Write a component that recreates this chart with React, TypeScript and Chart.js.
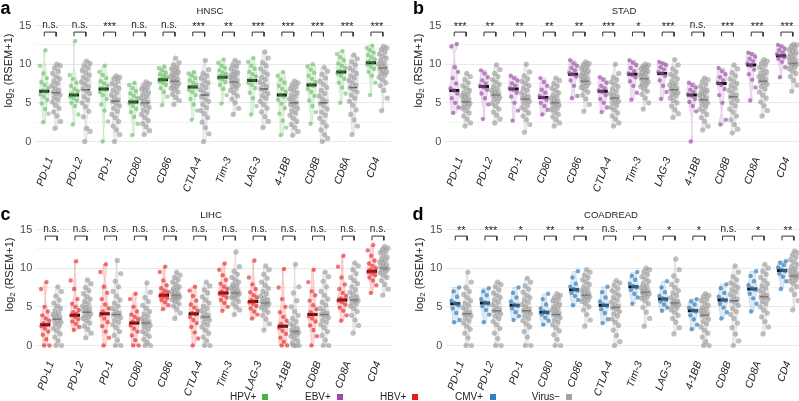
import React, { useEffect, useRef } from 'react';
import { Chart, registerables } from 'chart.js';
Chart.register(...registerables);

const FONT = '"Liberation Sans", Arial, Helvetica, sans-serif';

const genes = ['PD-L1', 'PD-L2', 'PD-1', 'CD80', 'CD86', 'CTLA-4', 'Tim-3', 'LAG-3', '4-1BB', 'CD8B', 'CD8A', 'CD4'];
const yTicks = [0, 2.5, 5, 7.5, 10, 12.5, 15];

// ---------- HNSC (HPV+ vs Virus-) ----------
const hnscSig = ['n.s.', 'n.s.', '***', 'n.s.', 'n.s.', '***', '**', '***', '***', '***', '***', '***'];
const hnscPosMed = [6.5, 6.0, 6.8, 5.1, 8.0, 7.05, 8.3, 7.9, 6.0, 7.3, 9.0, 10.2];
const hnscNegMed = [6.3, 6.7, 5.2, 5.0, 7.8, 6.0, 7.7, 6.8, 5.0, 5.0, 7.0, 9.5];
const hnscPos = [
  [2.5, 3.6, 4.2, 4.9, 5.4, 5.8, 6.1, 6.4, 6.6, 6.9, 7.3, 7.7, 8.2, 8.8, 9.8, 11.8],
  [2.2, 3.5, 4.6, 5.0, 5.3, 5.6, 5.8, 6.0, 6.2, 6.5, 6.8, 7.2, 7.6, 8.1, 8.6, 13.0],
  [0.0, 2.6, 4.0, 4.8, 5.5, 6.0, 6.4, 6.7, 6.9, 7.2, 7.5, 7.8, 8.2, 8.6, 9.0, 9.8],
  [0.8, 2.3, 3.2, 3.8, 4.2, 4.6, 4.9, 5.1, 5.3, 5.6, 5.9, 6.2, 6.5, 6.9, 7.3, 7.6],
  [4.7, 5.8, 6.4, 6.9, 7.3, 7.6, 7.8, 8.0, 8.1, 8.3, 8.5, 8.7, 8.9, 9.2, 9.5, 9.7],
  [2.8, 4.0, 4.8, 5.5, 6.0, 6.4, 6.7, 7.0, 7.1, 7.3, 7.6, 7.9, 8.2, 8.5, 8.8, 9.0],
  [4.9, 6.0, 6.8, 7.3, 7.7, 8.0, 8.2, 8.3, 8.5, 8.7, 8.9, 9.2, 9.5, 9.8, 10.2, 10.6],
  [3.5, 4.6, 5.6, 6.3, 6.9, 7.3, 7.6, 7.9, 8.1, 8.4, 8.7, 9.0, 9.4, 9.8, 10.3, 10.8],
  [0.8, 1.8, 2.7, 3.6, 4.3, 4.9, 5.4, 5.8, 6.1, 6.4, 6.8, 7.2, 7.6, 8.0, 8.5, 9.0],
  [2.3, 3.8, 4.6, 5.3, 5.9, 6.4, 6.8, 7.2, 7.4, 7.7, 8.1, 8.5, 8.9, 9.3, 9.7, 10.0],
  [5.0, 6.2, 7.0, 7.6, 8.1, 8.5, 8.8, 9.0, 9.2, 9.5, 9.8, 10.1, 10.5, 10.9, 11.3, 11.7],
  [6.0, 7.6, 8.5, 9.0, 9.4, 9.7, 10.0, 10.2, 10.4, 10.6, 10.9, 11.2, 11.5, 11.8, 12.1, 12.4],
];
const hnscNeg = [
  [1.7, 2.6, 3.3, 3.8, 4.3, 4.7, 5.1, 5.4, 5.7, 6.0, 6.2, 6.4, 6.6, 6.9, 7.2, 7.5, 7.8, 8.1, 8.4, 8.8, 9.1, 9.5, 9.8, 10.0],
  [0.0, 1.3, 1.7, 3.2, 3.9, 4.5, 5.0, 5.4, 5.8, 6.2, 6.5, 6.8, 7.1, 7.4, 7.7, 8.0, 8.3, 8.6, 8.9, 9.2, 9.5, 9.8, 10.1, 10.4],
  [0.0, 0.9, 1.5, 2.0, 2.6, 3.1, 3.5, 3.9, 4.3, 4.6, 4.9, 5.2, 5.4, 5.7, 6.0, 6.3, 6.6, 6.9, 7.2, 7.5, 7.8, 8.1, 8.3, 8.5],
  [0.9, 1.4, 1.9, 2.3, 2.7, 3.1, 3.5, 3.8, 4.1, 4.4, 4.7, 4.9, 5.1, 5.3, 5.6, 5.8, 6.1, 6.3, 6.6, 6.8, 7.0, 7.2, 7.5, 7.7],
  [4.8, 5.3, 5.7, 6.1, 6.4, 6.7, 6.9, 7.1, 7.3, 7.5, 7.7, 7.8, 8.0, 8.2, 8.4, 8.6, 8.8, 9.0, 9.2, 9.4, 9.6, 9.9, 10.2, 10.8],
  [0.0, 1.0, 1.8, 2.5, 3.1, 3.6, 4.0, 4.4, 4.8, 5.2, 5.5, 5.8, 6.1, 6.4, 6.7, 7.0, 7.3, 7.6, 7.9, 8.2, 8.5, 8.8, 9.3, 10.5],
  [3.5, 4.3, 5.0, 5.5, 5.9, 6.3, 6.6, 6.9, 7.1, 7.3, 7.5, 7.7, 7.9, 8.1, 8.3, 8.5, 8.7, 8.9, 9.1, 9.4, 9.7, 9.9, 10.2, 10.5],
  [1.8, 2.6, 3.2, 3.8, 4.3, 4.8, 5.2, 5.6, 5.9, 6.2, 6.5, 6.8, 7.1, 7.4, 7.7, 8.0, 8.3, 8.7, 9.0, 9.4, 9.8, 10.2, 10.8, 11.6],
  [0.8, 1.3, 1.8, 2.2, 2.6, 3.0, 3.4, 3.7, 4.0, 4.3, 4.6, 4.8, 5.0, 5.3, 5.5, 5.8, 6.0, 6.3, 6.6, 6.8, 7.1, 7.3, 7.6, 7.8],
  [0.0, 0.4, 0.9, 1.5, 2.0, 2.5, 3.0, 3.4, 3.8, 4.2, 4.6, 4.9, 5.2, 5.5, 5.9, 6.2, 6.6, 7.0, 7.4, 7.8, 8.2, 8.7, 9.1, 9.6],
  [0.9, 2.0, 2.8, 3.5, 4.1, 4.7, 5.2, 5.6, 6.0, 6.4, 6.7, 7.0, 7.3, 7.6, 7.9, 8.2, 8.5, 8.8, 9.2, 9.5, 9.9, 10.3, 10.7, 11.2],
  [4.0, 5.6, 6.6, 7.2, 7.6, 8.0, 8.3, 8.6, 8.8, 9.0, 9.2, 9.4, 9.6, 9.8, 10.0, 10.2, 10.5, 10.8, 11.0, 11.3, 11.6, 11.9, 12.1, 12.3],
];

// ---------- STAD (EBV+ vs Virus-) ----------
const stadSig = ['***', '**', '**', '**', '**', '***', '*', '***', 'n.s.', '***', '***', '***'];
const stadPosMed = [6.6, 7.1, 6.8, 5.7, 8.7, 6.5, 8.7, 8.8, 6.0, 7.5, 9.9, 11.1];
const stadNegMed = [5.1, 6.0, 5.5, 5.0, 7.8, 5.6, 8.1, 6.7, 5.4, 5.8, 7.8, 10.1];
const stadPos = [
  [3.7, 4.4, 5.0, 5.6, 6.2, 6.6, 6.9, 7.5, 8.2, 9.0, 9.6, 12.3, 12.6],
  [2.9, 4.8, 5.6, 6.2, 6.7, 7.0, 7.2, 7.5, 7.9, 8.3, 8.8, 9.2],
  [2.7, 4.0, 5.0, 5.8, 6.3, 6.7, 6.9, 7.2, 7.5, 7.9, 8.2, 8.5],
  [3.5, 4.1, 4.6, 5.0, 5.4, 5.7, 5.9, 6.3, 6.7, 7.2, 7.7, 8.2],
  [5.6, 5.9, 7.2, 7.9, 8.4, 8.7, 8.9, 9.2, 9.5, 9.8, 10.1, 10.5],
  [3.8, 4.4, 5.0, 5.5, 6.0, 6.4, 6.6, 6.9, 7.2, 7.6, 8.0, 8.3],
  [5.4, 6.3, 7.2, 7.8, 8.3, 8.6, 8.8, 9.1, 9.5, 9.9, 10.2, 10.5],
  [5.5, 6.4, 7.2, 7.9, 8.5, 8.8, 9.0, 9.3, 9.6, 9.9, 10.1, 10.3],
  [0.0, 3.9, 4.6, 5.1, 5.5, 5.9, 6.1, 6.4, 6.7, 7.0, 7.3, 7.6],
  [2.2, 2.8, 5.0, 6.0, 6.8, 7.3, 7.6, 7.9, 8.3, 8.7, 9.1, 9.5],
  [5.3, 7.0, 8.0, 8.7, 9.3, 9.8, 10.1, 10.4, 10.7, 11.0, 11.3, 11.5],
  [8.3, 9.6, 10.3, 10.7, 10.9, 11.1, 11.3, 11.5, 11.8, 12.0, 12.3, 12.5],
];
const stadNeg = [
  [2.0, 2.4, 2.9, 3.3, 3.7, 4.0, 4.3, 4.5, 4.7, 4.9, 5.1, 5.3, 5.5, 5.7, 5.9, 6.1, 6.3, 6.6, 6.9, 7.2, 7.6, 8.0, 8.4, 8.8],
  [2.4, 2.9, 3.4, 3.8, 4.2, 4.6, 4.9, 5.2, 5.5, 5.7, 5.9, 6.0, 6.2, 6.4, 6.6, 6.8, 7.1, 7.4, 7.7, 8.0, 8.4, 8.8, 9.3, 9.9],
  [1.2, 2.2, 2.8, 3.3, 3.7, 4.1, 4.4, 4.7, 5.0, 5.2, 5.4, 5.6, 5.8, 6.0, 6.3, 6.6, 6.9, 7.2, 7.5, 7.8, 8.1, 8.5, 9.0, 10.0],
  [2.0, 2.4, 2.8, 3.2, 3.5, 3.8, 4.1, 4.3, 4.5, 4.7, 4.9, 5.0, 5.2, 5.4, 5.6, 5.8, 6.0, 6.3, 6.6, 6.9, 7.2, 7.5, 7.9, 8.2],
  [3.9, 4.8, 5.5, 6.0, 6.4, 6.7, 7.0, 7.2, 7.4, 7.6, 7.8, 7.9, 8.1, 8.3, 8.5, 8.7, 8.9, 9.1, 9.3, 9.5, 9.7, 9.9, 10.1, 10.3],
  [2.0, 2.4, 2.9, 3.3, 3.7, 4.1, 4.4, 4.7, 5.0, 5.2, 5.4, 5.6, 5.8, 6.0, 6.2, 6.5, 6.8, 7.1, 7.4, 7.7, 8.0, 8.3, 8.8, 10.0],
  [4.2, 5.0, 5.6, 6.1, 6.5, 6.8, 7.1, 7.3, 7.5, 7.7, 7.9, 8.1, 8.2, 8.4, 8.6, 8.8, 8.9, 9.1, 9.3, 9.4, 9.6, 9.7, 9.9, 10.0],
  [3.1, 3.6, 4.1, 4.6, 5.0, 5.3, 5.6, 5.9, 6.1, 6.3, 6.5, 6.7, 6.9, 7.1, 7.3, 7.5, 7.8, 8.1, 8.4, 8.7, 9.0, 9.4, 9.9, 10.6],
  [1.5, 2.0, 2.6, 3.1, 3.5, 3.9, 4.2, 4.5, 4.8, 5.0, 5.2, 5.4, 5.6, 5.8, 6.0, 6.2, 6.4, 6.6, 6.8, 7.1, 7.4, 7.7, 8.0, 8.2],
  [1.1, 1.6, 2.2, 2.8, 3.3, 3.8, 4.2, 4.6, 5.0, 5.3, 5.6, 5.8, 6.0, 6.3, 6.6, 6.9, 7.2, 7.5, 7.8, 8.1, 8.5, 8.9, 9.4, 9.9],
  [3.3, 4.0, 4.6, 5.1, 5.6, 6.0, 6.4, 6.8, 7.1, 7.4, 7.6, 7.8, 8.0, 8.2, 8.4, 8.6, 8.8, 9.0, 9.3, 9.6, 9.9, 10.1, 10.4, 10.6],
  [6.5, 7.3, 7.9, 8.4, 8.8, 9.1, 9.4, 9.6, 9.8, 10.0, 10.1, 10.3, 10.5, 10.7, 10.9, 11.1, 11.3, 11.5, 11.7, 11.9, 12.1, 12.3, 12.5, 12.6],
];

// ---------- LIHC (HBV+ vs Virus-) ----------
const lihcSig = ['n.s.', 'n.s.', 'n.s.', 'n.s.', 'n.s.', 'n.s.', 'n.s.', 'n.s.', 'n.s.', 'n.s.', 'n.s.', 'n.s.'];
const lihcPosMed = [2.7, 3.9, 4.1, 2.9, 6.5, 4.1, 6.8, 5.7, 2.5, 4.0, 5.9, 9.6];
const lihcNegMed = [3.4, 4.3, 4.0, 2.9, 6.5, 3.7, 6.8, 5.5, 1.8, 4.0, 5.9, 10.0];
const lihcPos = [
  [0.0, 0.0, 0.8, 1.4, 1.8, 2.2, 2.5, 2.7, 2.9, 3.2, 3.5, 3.9, 4.4, 5.0, 7.3, 8.2],
  [2.0, 2.4, 2.8, 3.1, 3.4, 3.7, 3.9, 4.1, 4.3, 4.6, 5.0, 5.4, 6.0, 7.3, 8.4, 10.9],
  [0.0, 1.0, 1.8, 2.5, 3.0, 3.5, 3.9, 4.1, 4.4, 4.8, 5.3, 6.0, 6.8, 7.6, 9.5, 10.5],
  [0.0, 0.0, 0.7, 1.3, 1.8, 2.2, 2.6, 2.9, 3.1, 3.4, 3.7, 4.0, 4.4, 5.0, 6.0, 6.7],
  [4.7, 5.2, 5.6, 5.9, 6.1, 6.3, 6.4, 6.5, 6.7, 6.9, 7.1, 7.4, 7.8, 8.4, 9.5, 10.2],
  [0.0, 0.9, 1.7, 2.4, 2.9, 3.3, 3.7, 4.0, 4.2, 4.5, 4.9, 5.3, 5.8, 6.4, 7.1, 7.6],
  [4.5, 5.0, 5.5, 5.9, 6.2, 6.5, 6.7, 6.8, 7.0, 7.3, 7.6, 8.0, 8.5, 9.1, 9.8, 10.6],
  [3.5, 4.0, 4.4, 4.8, 5.1, 5.4, 5.6, 5.7, 5.9, 6.2, 6.5, 6.9, 7.3, 7.9, 8.8, 11.0],
  [0.0, 0.0, 0.5, 1.0, 1.5, 1.9, 2.3, 2.5, 2.8, 3.2, 3.7, 4.3, 5.0, 6.0, 7.5, 9.9],
  [0.0, 1.2, 2.0, 2.6, 3.1, 3.5, 3.8, 4.0, 4.3, 4.7, 5.2, 5.8, 6.5, 7.0, 8.2, 9.8],
  [3.2, 3.9, 4.5, 4.9, 5.3, 5.6, 5.8, 5.9, 6.1, 6.4, 6.8, 7.3, 7.9, 8.8, 10.2, 11.6],
  [6.8, 7.8, 8.4, 8.8, 9.1, 9.3, 9.5, 9.6, 9.8, 10.0, 10.3, 10.6, 11.0, 11.6, 12.3, 13.0],
];
const lihcNeg = [
  [0.0, 0.0, 0.6, 1.1, 1.5, 1.9, 2.2, 2.5, 2.8, 3.0, 3.2, 3.4, 3.6, 3.8, 4.0, 4.2, 4.5, 4.8, 5.1, 5.5, 5.9, 6.4, 7.0, 7.6],
  [1.0, 1.6, 2.1, 2.5, 2.9, 3.2, 3.5, 3.7, 3.9, 4.1, 4.3, 4.5, 4.7, 4.9, 5.1, 5.4, 5.7, 6.0, 6.3, 6.7, 7.1, 7.5, 8.0, 8.5],
  [0.0, 0.0, 0.7, 1.3, 1.8, 2.3, 2.7, 3.0, 3.3, 3.6, 3.8, 4.0, 4.2, 4.5, 4.8, 5.1, 5.5, 5.9, 6.4, 7.0, 7.6, 8.3, 9.3, 11.0],
  [0.0, 0.0, 0.4, 0.8, 1.2, 1.5, 1.8, 2.1, 2.4, 2.6, 2.8, 2.9, 3.1, 3.3, 3.5, 3.8, 4.1, 4.4, 4.8, 5.2, 5.7, 6.2, 6.9, 8.1],
  [3.5, 4.2, 4.7, 5.1, 5.4, 5.7, 5.9, 6.1, 6.2, 6.3, 6.4, 6.5, 6.6, 6.8, 7.0, 7.2, 7.4, 7.6, 7.9, 8.2, 8.5, 8.8, 9.1, 9.5],
  [0.0, 0.0, 0.6, 1.1, 1.6, 2.0, 2.4, 2.7, 3.0, 3.3, 3.5, 3.7, 3.9, 4.2, 4.5, 4.8, 5.1, 5.5, 5.9, 6.3, 6.8, 7.2, 7.7, 8.2],
  [4.0, 4.6, 5.0, 5.4, 5.7, 6.0, 6.2, 6.4, 6.5, 6.7, 6.8, 6.9, 7.1, 7.3, 7.5, 7.7, 7.9, 8.2, 8.5, 8.8, 9.2, 9.6, 10.2, 12.1],
  [2.0, 2.8, 3.4, 3.9, 4.3, 4.6, 4.9, 5.1, 5.3, 5.4, 5.5, 5.7, 5.9, 6.1, 6.4, 6.7, 7.0, 7.4, 7.8, 8.2, 8.7, 9.2, 9.8, 10.3],
  [0.0, 0.0, 0.0, 0.3, 0.6, 0.9, 1.2, 1.4, 1.6, 1.7, 1.8, 2.0, 2.2, 2.5, 2.8, 3.1, 3.5, 3.9, 4.4, 5.0, 5.8, 6.8, 7.6, 10.5],
  [0.0, 0.0, 0.7, 1.3, 1.8, 2.3, 2.7, 3.0, 3.3, 3.6, 3.8, 4.0, 4.2, 4.5, 4.8, 5.2, 5.6, 6.0, 6.5, 7.0, 7.6, 8.3, 8.9, 9.5],
  [1.6, 2.6, 3.3, 3.9, 4.4, 4.8, 5.1, 5.4, 5.6, 5.8, 5.9, 6.1, 6.3, 6.6, 6.9, 7.2, 7.6, 8.0, 8.4, 8.8, 9.3, 9.8, 10.3, 10.7],
  [6.5, 7.3, 7.9, 8.4, 8.8, 9.1, 9.4, 9.6, 9.8, 9.9, 10.0, 10.2, 10.4, 10.6, 10.8, 11.0, 11.2, 11.4, 11.7, 12.0, 12.2, 12.4, 12.6, 12.8],
];

// ---------- COADREAD (CMV+ vs Virus-) ----------
const coadSig = ['**', '***', '*', '**', '**', 'n.s.', '*', '*', '*', 'n.s.', '*', '**'];
const coadPosMed = [5.4, 5.5, 5.2, 4.3, 7.2, 5.2, 7.6, 6.0, 4.5, 5.9, 7.3, 9.7];
const coadNegMed = [4.1, 4.5, 4.5, 4.0, 6.5, 4.9, 6.9, 5.5, 3.9, 5.8, 6.3, 9.0];
const coadPos = [
  [3.0, 3.3, 4.2, 4.8, 5.2, 5.5, 5.8, 6.3, 7.0, 7.5],
  [3.0, 4.0, 4.6, 5.1, 5.4, 5.6, 6.0, 6.5, 7.0, 7.4],
  [3.3, 3.8, 4.3, 4.8, 5.1, 5.3, 5.7, 6.2, 6.8, 7.5],
  [2.7, 3.2, 3.6, 4.0, 4.2, 4.4, 4.8, 5.3, 6.0, 6.7],
  [5.2, 5.9, 6.4, 6.8, 7.1, 7.3, 7.6, 8.0, 8.8, 9.6],
  [2.9, 3.4, 4.2, 4.7, 5.1, 5.3, 5.7, 6.2, 6.9, 7.6],
  [5.4, 6.2, 6.7, 7.2, 7.5, 7.7, 8.0, 8.5, 9.0, 9.5],
  [4.5, 4.9, 5.3, 5.7, 5.9, 6.1, 6.4, 6.9, 7.5, 8.3],
  [2.1, 2.7, 3.4, 3.9, 4.4, 4.6, 4.9, 5.3, 5.7, 6.0],
  [3.5, 4.3, 4.9, 5.4, 5.8, 6.0, 6.3, 6.8, 7.4, 7.9],
  [4.4, 5.4, 6.1, 6.7, 7.2, 7.4, 7.8, 8.3, 9.0, 9.6],
  [7.3, 8.3, 8.9, 9.3, 9.6, 9.8, 10.1, 10.4, 10.7, 10.9],
];
const coadNeg = [
  [0.0, 0.0, 1.0, 1.6, 2.1, 2.5, 2.9, 3.2, 3.5, 3.8, 4.0, 4.1, 4.3, 4.6, 4.9, 5.2, 5.5, 5.8, 6.2, 6.6, 7.0, 7.5, 8.2, 9.5],
  [0.0, 0.0, 0.9, 1.6, 2.2, 2.7, 3.1, 3.5, 3.8, 4.1, 4.3, 4.5, 4.7, 5.0, 5.3, 5.6, 5.9, 6.2, 6.5, 6.8, 7.2, 7.6, 7.9, 8.2],
  [0.0, 0.0, 1.1, 1.8, 2.4, 2.8, 3.2, 3.5, 3.8, 4.1, 4.3, 4.5, 4.7, 5.0, 5.3, 5.6, 5.9, 6.2, 6.5, 6.9, 7.3, 7.7, 8.2, 8.7],
  [0.0, 0.0, 0.8, 1.4, 1.9, 2.3, 2.7, 3.0, 3.3, 3.6, 3.8, 4.0, 4.2, 4.4, 4.6, 4.8, 5.0, 5.3, 5.5, 5.8, 6.0, 6.2, 6.5, 6.7],
  [2.5, 3.3, 4.0, 4.6, 5.0, 5.4, 5.7, 5.9, 6.1, 6.3, 6.4, 6.5, 6.7, 6.9, 7.1, 7.3, 7.6, 7.9, 8.2, 8.5, 8.8, 9.1, 9.5, 9.8],
  [0.0, 0.5, 1.3, 2.0, 2.6, 3.0, 3.4, 3.8, 4.1, 4.4, 4.7, 4.9, 5.1, 5.3, 5.6, 5.9, 6.2, 6.5, 6.8, 7.1, 7.4, 7.8, 8.1, 8.4],
  [2.5, 3.5, 4.3, 4.9, 5.4, 5.8, 6.1, 6.3, 6.5, 6.7, 6.8, 6.9, 7.1, 7.3, 7.5, 7.7, 8.0, 8.3, 8.6, 8.9, 9.2, 9.5, 9.8, 10.0],
  [1.5, 2.3, 3.0, 3.5, 3.9, 4.3, 4.6, 4.9, 5.1, 5.3, 5.4, 5.5, 5.7, 5.9, 6.2, 6.5, 6.8, 7.1, 7.5, 7.9, 8.4, 9.0, 9.8, 11.2],
  [0.0, 0.0, 0.5, 1.1, 1.6, 2.0, 2.4, 2.8, 3.1, 3.4, 3.7, 3.9, 4.1, 4.3, 4.5, 4.7, 4.9, 5.2, 5.5, 5.8, 6.0, 6.3, 6.5, 6.7],
  [0.0, 0.6, 1.5, 2.3, 2.9, 3.5, 4.0, 4.4, 4.8, 5.2, 5.5, 5.8, 6.0, 6.3, 6.6, 6.9, 7.2, 7.5, 7.8, 8.1, 8.5, 8.9, 9.5, 10.3],
  [1.5, 2.4, 3.1, 3.7, 4.2, 4.6, 5.0, 5.4, 5.7, 6.0, 6.2, 6.3, 6.5, 6.8, 7.1, 7.4, 7.7, 8.0, 8.4, 8.8, 9.2, 9.6, 10.0, 10.5],
  [4.6, 5.8, 6.6, 7.2, 7.6, 8.0, 8.3, 8.5, 8.7, 8.9, 9.0, 9.1, 9.3, 9.5, 9.7, 9.9, 10.2, 10.5, 10.8, 11.1, 11.4, 11.7, 12.0, 12.2],
];

const legendItems = [
  { label: 'HPV+', color: '#4daf4a' },
  { label: 'EBV+', color: '#984ea3' },
  { label: 'HBV+', color: '#e41a1c' },
  { label: 'CMV+', color: '#377eb8' },
  { label: 'Virus\u2212', color: '#a3a3a3' },
];

type PanelDef = {
  letter: string; title: string; rgb: string; ptAlpha: number;
  pos: number[][]; neg: number[][]; posMed: number[]; negMed: number[]; sig: string[];
  left: number; top: number; titleX: number; titleY: number; letterX: number; letterY: number;
};

const panels: PanelDef[] = [
  { letter: 'a', title: 'HNSC', rgb: '77,175,74', ptAlpha: 0.5, pos: hnscPos, neg: hnscNeg, posMed: hnscPosMed, negMed: hnscNegMed, sig: hnscSig,
    left: 0, top: 0, titleX: 210, titleY: 11.7, letterX: 0.5, letterY: 13.5 },
  { letter: 'b', title: 'STAD', rgb: '152,78,163', ptAlpha: 0.65, pos: stadPos, neg: stadNeg, posMed: stadPosMed, negMed: stadNegMed, sig: stadSig,
    left: 410, top: 0, titleX: 214, titleY: 11.7, letterX: 3, letterY: 13.5 },
  { letter: 'c', title: 'LIHC', rgb: '228,26,28', ptAlpha: 0.6, pos: lihcPos, neg: lihcNeg, posMed: lihcPosMed, negMed: lihcNegMed, sig: lihcSig,
    left: 1, top: 204, titleX: 210, titleY: 11.5, letterX: -0.5, letterY: 16 },
  { letter: 'd', title: 'COADREAD', rgb: '55,126,184', ptAlpha: 0.7, pos: coadPos, neg: coadNeg, posMed: coadPosMed, negMed: coadNegMed, sig: coadSig,
    left: 411, top: 204, titleX: 200, titleY: 11.5, letterX: 1.5, letterY: 16 },
];

const CW = 400;
const CH = 195;
const POS_OFF = -0.2;
const NEG_OFF = 0.2;
const JW = 0.15;
const VW = 0.17;
const jit = (j: number) => (((j * 0.6180339887 + 0.37) % 1) * 2 - 1) * JW;

// violin outline from the listed values (kernel density, trimmed to the data range)
function violinPath(vals: number[], bw: number) {
  const lo = Math.min(...vals);
  const hi = Math.max(...vals);
  const out: { y: number; d: number }[] = [];
  const n = 60;
  for (let k = 0; k <= n; k++) {
    const yv = lo + ((hi - lo) * k) / n;
    let d = 0;
    vals.forEach((v) => { const z = (yv - v) / bw; d += Math.exp(-0.5 * z * z); });
    out.push({ y: yv, d });
  }
  const m = Math.max(...out.map((o) => o.d));
  return out.map((o) => ({ y: o.y, w: (o.d / m) * VW }));
}

function Panel({ def }: { def: PanelDef }) {
  const ref = useRef<HTMLCanvasElement | null>(null);
  useEffect(() => {
    if (!ref.current) return;
    const datasets: any[] = [];
    const negPts: any[] = [];
    def.neg.forEach((vals, i) => vals.forEach((v, j) => negPts.push({ x: i + NEG_OFF + jit(j), y: v })));
    const posPts: any[] = [];
    def.pos.forEach((vals, i) => vals.forEach((v, j) => posPts.push({ x: i + POS_OFF + jit(j), y: v })));
    datasets.push({ data: negPts, pointRadius: 2.6, pointBackgroundColor: 'rgba(150,150,150,0.6)', pointBorderWidth: 0, showLine: false });
    datasets.push({ data: posPts, pointRadius: 2.2, pointBackgroundColor: `rgba(${def.rgb},${def.ptAlpha})`, pointBorderWidth: 0, showLine: false });
    datasets.push({
      data: def.negMed.map((m, i) => ({ x: i + NEG_OFF, y: m })), pointStyle: 'line', pointRadius: 4,
      pointBorderWidth: 1.5, pointBorderColor: '#2a2a2a', showLine: false,
    });
    datasets.push({
      data: def.posMed.map((m, i) => ({ x: i + POS_OFF, y: m })), pointStyle: 'line', pointRadius: 5,
      pointBorderWidth: 3, pointBorderColor: '#111', showLine: false,
    });
    genes.forEach((_, i) => {
      datasets.push({
        type: 'line',
        data: [
          { x: i + POS_OFF, y: 13.6 }, { x: i + POS_OFF, y: 14.15 },
          { x: i + NEG_OFF, y: 14.15 }, { x: i + NEG_OFF, y: 13.6 },
        ],
        borderColor: '#333', borderWidth: 1, pointRadius: 0, fill: false, tension: 0,
      });
    });

    const violinPlugin = {
      id: 'violins',
      beforeDatasetsDraw(chart: any) {
        const { ctx, scales } = chart;
        const x = scales.x;
        const y = scales.y;
        const draw = (vals: number[], cx: number, fill: string, stroke: string) => {
          const path = violinPath(vals, 0.55);
          ctx.beginPath();
          path.forEach((p, k) => {
            const px = x.getPixelForValue(cx + p.w);
            const py = y.getPixelForValue(p.y);
            if (k === 0) ctx.moveTo(px, py); else ctx.lineTo(px, py);
          });
          for (let k = path.length - 1; k >= 0; k--) {
            ctx.lineTo(x.getPixelForValue(cx - path[k].w), y.getPixelForValue(path[k].y));
          }
          ctx.closePath();
          ctx.fillStyle = fill;
          ctx.fill();
          ctx.strokeStyle = stroke;
          ctx.lineWidth = 0.6;
          ctx.stroke();
        };
        ctx.save();
        def.neg.forEach((vals, i) => draw(vals, i + NEG_OFF, 'rgba(153,153,153,0.18)', 'rgba(153,153,153,0.35)'));
        def.pos.forEach((vals, i) => draw(vals, i + POS_OFF, `rgba(${def.rgb},0.16)`, `rgba(${def.rgb},0.3)`));
        ctx.restore();
      },
    };

    const textPlugin = {
      id: 'panelText',
      afterDatasetsDraw(chart: any) {
        const { ctx, scales } = chart;
        const x = scales.x;
        const y = scales.y;
        ctx.save();
        ctx.fillStyle = '#222';
        ctx.textAlign = 'center';
        ctx.textBaseline = 'middle';
        def.sig.forEach((s, i) => {
          ctx.font = s === 'n.s.' ? `10px ${FONT}` : `11px ${FONT}`;
          ctx.fillText(s, x.getPixelForValue(i), y.getPixelForValue(15) + (s === 'n.s.' ? 0 : 1));
        });
        ctx.font = `9.5px ${FONT}`;
        ctx.fillText(def.title, def.titleX, def.titleY);
        ctx.font = `bold 18px ${FONT}`;
        ctx.textAlign = 'left';
        ctx.textBaseline = 'alphabetic';
        ctx.fillStyle = '#000';
        ctx.fillText(def.letter, def.letterX, def.letterY);
        // y-axis title: log2 (RSEM+1)
        ctx.fillStyle = '#222';
        ctx.translate(9, 70.5);
        ctx.rotate(-Math.PI / 2);
        ctx.textBaseline = 'middle';
        const f1 = `11px ${FONT}`;
        const f2 = `8px ${FONT}`;
        ctx.font = f1;
        const w1 = ctx.measureText('log').width;
        const w3 = ctx.measureText(' (RSEM+1)').width;
        ctx.font = f2;
        const w2 = ctx.measureText('2').width;
        let cx = -(w1 + w2 + w3) / 2;
        ctx.font = f1;
        ctx.fillText('log', cx, 0);
        cx += w1;
        ctx.font = f2;
        ctx.fillText('2', cx, 3);
        cx += w2;
        ctx.font = f1;
        ctx.fillText(' (RSEM+1)', cx, 0);
        ctx.restore();
      },
    };

    const chart = new Chart(ref.current, {
      type: 'scatter',
      data: { datasets },
      options: {
        responsive: false,
        animation: false,
        events: [],
        layout: { padding: { top: 20.1, right: 8.25, left: 0, bottom: 0 } },
        plugins: { legend: { display: false }, tooltip: { enabled: false }, title: { display: false } },
        scales: {
          x: {
            type: 'linear', min: -0.5, max: 11.5,
            grid: { display: false }, border: { display: false },
            afterBuildTicks: (s: any) => { s.ticks = genes.map((_, i) => ({ value: i })); },
            afterFit: (s: any) => { s.height = 50.4; },
            ticks: {
              autoSkip: false, minRotation: 70, maxRotation: 70, padding: 3,
              color: '#222', font: { family: FONT, size: 10.5, style: 'italic' },
              callback: (v: any) => genes[Math.round(Number(v))] ?? '',
            },
          },
          y: {
            type: 'linear', min: -0.4, max: 15.7,
            afterBuildTicks: (s: any) => { s.ticks = yTicks.map((v) => ({ value: v })); },
            afterFit: (s: any) => { s.width = 35.35; },
            grid: {
              drawTicks: false, lineWidth: 0.8,
              color: (c: any) => (c.tick && c.tick.value % 5 === 0 ? '#e3e3e3' : '#f1f1f1'),
            },
            border: { display: false },
            ticks: {
              padding: 4, color: '#4d4d4d', font: { family: FONT, size: 11 },
              callback: (v: any) => (Number(v) % 5 === 0 ? String(v) : ''),
            },
          },
        },
      } as any,
      plugins: [violinPlugin, textPlugin],
    });
    return () => chart.destroy();
  }, [def]);
  return (
    <canvas
      ref={ref}
      width={CW}
      height={CH}
      style={{ position: 'absolute', left: def.left, top: def.top, width: CW, height: CH }}
    />
  );
}

const legendTextX = [230, 305, 380, 455, 531.7];
const legendSqX = [261.7, 336.7, 411.7, 490, 565.7];

export default function App() {
  return (
    <div
      style={{
        position: 'fixed', left: 0, top: 0, width: 799, height: 401, overflow: 'hidden',
        background: '#fff', fontFamily: FONT,
      }}
    >
      {panels.map((p) => (
        <Panel key={p.letter} def={p} />
      ))}
      {legendItems.map((it, i) => (
        <React.Fragment key={it.label}>
          <span
            style={{
              position: 'absolute', left: legendTextX[i], top: 391, fontSize: 10, lineHeight: '12px',
              color: '#222', whiteSpace: 'nowrap',
            }}
          >
            {it.label}
          </span>
          <span
            style={{
              position: 'absolute', left: legendSqX[i], top: 394, width: 6, height: 6, background: it.color,
            }}
          />
        </React.Fragment>
      ))}
    </div>
  );
}
